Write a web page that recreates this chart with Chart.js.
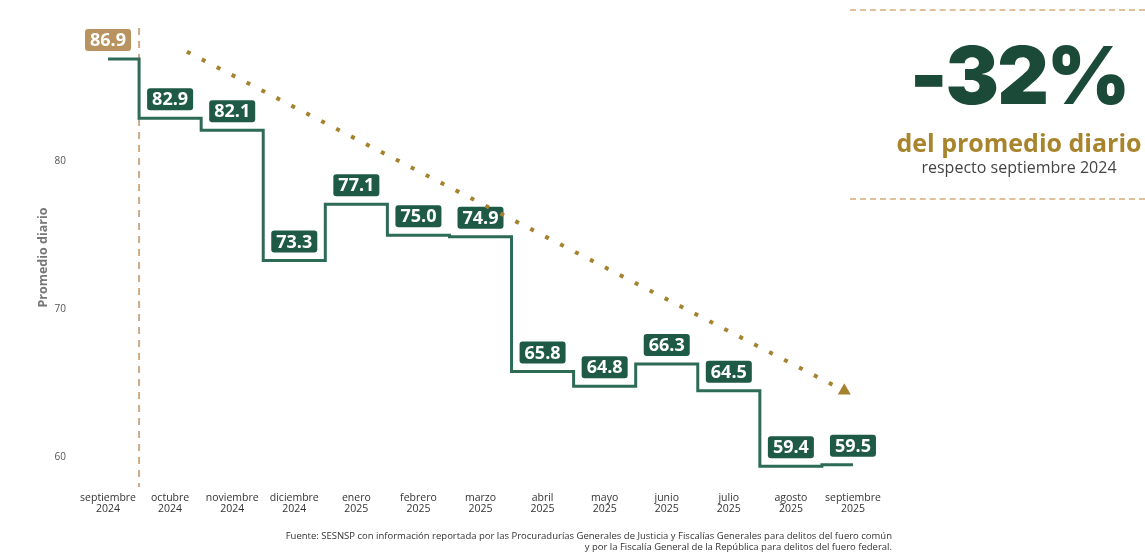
<!DOCTYPE html>
<html lang="es">
<head>
<meta charset="utf-8">
<title>Promedio diario</title>
<script src="https://cdn.jsdelivr.net/npm/chart.js@4.4.1/dist/chart.umd.min.js"></script>
<style>
  html, body { margin: 0; padding: 0; background: #ffffff; }
  #wrap { position: relative; width: 1145px; height: 552px; overflow: hidden; font-family: "Open Sans", sans-serif; }
  #grafica { position: absolute; left: 0; top: 0; }
  .dash { position: absolute; left: 850px; width: 295px; height: 0; border-top: 2px dashed #dcc19a; }
  #resumen { position: absolute; left: 888px; width: 262px; top: 27px; text-align: center; }
  #pct { font-family: Inter, "DejaVu Sans", sans-serif; font-weight: 900; font-size: 80px; line-height: 96px; color: #1b4a39; letter-spacing: -2px; }
  #sub1 { font-weight: 700; font-size: 25px; line-height: 30px; color: #a8842c; margin-top: 4px; }
  #sub2 { font-size: 16px; line-height: 20px; color: #444444; }
  #fuente { position: absolute; right: 253px; top: 530px; text-align: right; font-size: 9.5px; line-height: 11px; color: #333333; white-space: nowrap; }
</style>
</head>
<body>
<div id="wrap">
  <canvas id="grafica" width="1145" height="552"></canvas>
  <div class="dash" style="top: 9px;"></div>
  <div class="dash" style="top: 198px;"></div>
  <div id="resumen">
    <div id="pct">-32%</div>
    <div id="sub1">del promedio diario</div>
    <div id="sub2">respecto septiembre 2024</div>
  </div>
  <div id="fuente">Fuente: SESNSP con información reportada por las Procuradurías Generales de Justicia y Fiscalías Generales para delitos del fuero común<br>y por la Fiscalía General de la República para delitos del fuero federal.</div>
</div>
<script>
const meses = [
    ["septiembre", "2024"], ["octubre", "2024"], ["noviembre", "2024"], ["diciembre", "2024"],
    ["enero", "2025"], ["febrero", "2025"], ["marzo", "2025"], ["abril", "2025"],
    ["mayo", "2025"], ["junio", "2025"], ["julio", "2025"], ["agosto", "2025"], ["septiembre", "2025"]
];
const promedioDiario = [86.9, 82.9, 82.1, 73.3, 77.1, 75.0, 74.9, 65.8, 64.8, 66.3, 64.5, 59.4, 59.5];
const yTicks = [60, 70, 80];
// tendencia: posición (índice de mes) y valor al inicio y al final de la flecha
const tendenciaX = [1.27, 11.86];
const tendenciaY = [87.4, 64.5];

const VERDE = "#2e6b55";
const VERDE_CAJA = "#1f5a46";
const CAFE = "#b8925f";
const DORADO = "#a5822d";

// cajas con el valor sobre cada escalón
const etiquetasPlugin = {
    id: "etiquetas",
    afterDatasetDraw(chart, args) {
        if (args.index !== 0) return;
        const ctx = chart.ctx;
        ctx.save();
        ctx.font = "bold 18px 'Open Sans'";
        ctx.textAlign = "center";
        ctx.textBaseline = "middle";
        args.meta.data.forEach((pt, i) => {
            const txt = promedioDiario[i].toFixed(1);
            const w = ctx.measureText(txt).width + 10;
            const h = 22;
            const x = pt.x - w / 2;
            const y = pt.y - 8 - h;
            ctx.fillStyle = i === 0 ? CAFE : VERDE_CAJA;
            ctx.beginPath();
            ctx.roundRect(x, y, w, h, 3);
            ctx.fill();
            ctx.fillStyle = "#ffffff";
            ctx.fillText(txt, pt.x, y + h / 2 + 1);
        });
        ctx.restore();
    }
};

// línea punteada vertical entre septiembre y octubre 2024
const divisorPlugin = {
    id: "divisor",
    beforeDatasetsDraw(chart) {
        const xs = chart.scales.x;
        const area = chart.chartArea;
        const x = (xs.getPixelForValue(0) + xs.getPixelForValue(1)) / 2;
        const ctx = chart.ctx;
        ctx.save();
        ctx.strokeStyle = "#cfa986";
        ctx.lineWidth = 2;
        ctx.setLineDash([7, 6]);
        ctx.beginPath();
        ctx.moveTo(x, area.top);
        ctx.lineTo(x, area.bottom);
        ctx.stroke();
        ctx.restore();
    }
};

new Chart(document.getElementById("grafica"), {
    type: "line",
    data: {
        labels: meses,
        datasets: [
            {
                data: promedioDiario,
                stepped: "middle",
                borderColor: VERDE,
                borderWidth: 3,
                pointRadius: 0,
                fill: false,
                order: 1
            },
            {
                data: tendenciaX.map((x, i) => ({ x: x, y: tendenciaY[i] })),
                xAxisID: "x2",
                borderColor: DORADO,
                borderWidth: 4,
                borderDash: [4, 12.8],
                pointRadius: [0, 7.5],
                pointStyle: "triangle",
                pointBackgroundColor: DORADO,
                pointBorderWidth: 0,
                fill: false,
                order: 0
            }
        ]
    },
    options: {
        responsive: false,
        animation: false,
        layout: { padding: { left: 0, right: 261, top: 28, bottom: 0 } },
        plugins: { legend: { display: false }, tooltip: { enabled: false } },
        scales: {
            x: {
                type: "category",
                offset: true,
                grid: { display: false, drawTicks: false },
                border: { display: false },
                ticks: {
                    padding: 5,
                    maxRotation: 0,
                    autoSkip: false,
                    color: "#333333",
                    font: { family: "Open Sans", size: 10.5, lineHeight: 1.1 }
                },
                afterFit(scale) { scale.height = 65; }
            },
            x2: {
                type: "linear",
                display: false,
                min: -0.5,
                max: 12.5
            },
            y: {
                min: 58,
                max: 89,
                grid: { display: false, drawTicks: false },
                border: { display: false },
                afterBuildTicks(scale) { scale.ticks = yTicks.map(v => ({ value: v })); },
                ticks: {
                    padding: 11,
                    color: "#555555",
                    font: { family: "Open Sans", size: 10 }
                },
                title: {
                    display: true,
                    text: "Promedio diario",
                    color: "#777777",
                    padding: { top: 36, bottom: 0 },
                    font: { family: "Open Sans", size: 12.5, weight: "bold" }
                },
                afterFit(scale) { scale.width = 77; }
            }
        }
    },
    plugins: [divisorPlugin, etiquetasPlugin]
});
</script>
</body>
</html>
